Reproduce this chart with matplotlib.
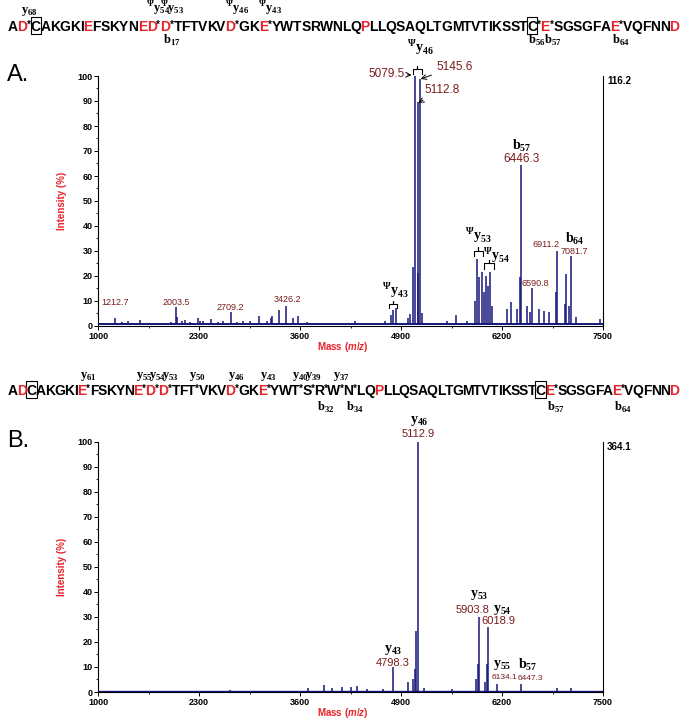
import matplotlib
matplotlib.use('Agg')
import matplotlib.pyplot as plt
from matplotlib.patches import Rectangle

plt.rcParams['font.family'] = ['Liberation Sans', 'DejaVu Sans']
plt.rcParams['mathtext.fontset'] = 'custom'
plt.rcParams['mathtext.rm'] = 'Liberation Serif:bold'
plt.rcParams['mathtext.bf'] = 'Liberation Serif:bold'
plt.rcParams['mathtext.it'] = 'Liberation Sans:italic:bold'

W_PX, H_PX = 691, 720
RED = '#e8232a'
NUM = '#7a1c1c'
LINE = '#16167a'

# ---- sequences -------------------------------------------------------------
SEQ_A = "AD*CAKGKIEFSKYNED*D*TFTVKVD*GKE*YWTSRWNLQPLLQSAQLTGMTVTIKSSTC*E*SGSGFAE*VQFNND"
RED_A = [1, 9, 15, 16, 18, 26, 30, 41, 62, 70, 77]
BOX_A = [3, 60]
TOP_A = {2: r'$\mathrm{y}_{68}$', 17: r'${}^{\Psi}\mathrm{y}_{54}$', 19: r'${}^{\Psi}\mathrm{y}_{53}$',
         27: r'${}^{\Psi}\mathrm{y}_{46}$', 31: r'${}^{\Psi}\mathrm{y}_{43}$'}
BOT_A = {19: r'$\mathrm{b}_{17}$', 62: r'$\mathrm{b}_{56}\mathrm{b}_{57}$', 71: r'$\mathrm{b}_{64}$'}

SEQ_B = "ADCAKGKIE*FSKYNE*D*D*TFT*VKVD*GKE*YWT*S*R*W*N*LQPLLQSAQLTGMTVTIKSSTCE*SGSGFAE*VQFNND"
RED_B = [1, 8, 15, 17, 19, 28, 32, 48, 68, 76, 83]
BOX_B = [2, 67]
TOP_B = {9: r'$\mathrm{y}_{61}$', 16: r'$\mathrm{y}_{55}$', 18: r'$\mathrm{y}_{54}$', 20: r'$\mathrm{y}_{53}$',
         24: r'$\mathrm{y}_{50}$', 29: r'$\mathrm{y}_{46}$', 33: r'$\mathrm{y}_{43}$', 37: r'$\mathrm{y}_{40}$',
         39: r'$\mathrm{y}_{39}$', 43: r'$\mathrm{y}_{37}$'}
BOT_B = {41: r'$\mathrm{b}_{32}$', 45: r'$\mathrm{b}_{34}$', 69: r'$\mathrm{b}_{57}$', 77: r'$\mathrm{b}_{64}$'}

# ---- spectrum A (m/z, relative intensity %) ---------------------------------
A_MZ = [1212.7, 1305, 1390, 1540, 1755, 1880, 1940, 2003.5, 2020, 2075, 2120, 2180, 2282, 2313,
        2355, 2450, 2548, 2613, 2709.2, 2785, 2870, 2955, 3072, 3170, 3222, 3239, 3333, 3426.2,
        3513, 3573, 3685, 3857, 4028, 4307, 4457, 4607, 4693, 4766, 4800, 4834, 4993, 5015, 5058,
        5079.5, 5112.8, 5123, 5145.6, 5165, 5488, 5607, 5745, 5852, 5873, 5904, 5938, 5964, 5990,
        6024, 6045, 6067, 6260, 6316, 6388, 6431, 6446.3, 6517, 6560, 6590.8, 6676, 6744, 6800,
        6894, 6911.2, 7010, 7023, 7060, 7081.7, 7150, 7460]
A_INT = [3.2, 1.6, 1.8, 2.4, 1.2, 1.2, 1.6, 7.6, 3.5, 2.0, 2.2, 1.5, 3.0, 2.0,
         1.8, 2.6, 1.6, 1.8, 5.7, 1.6, 2.0, 2.0, 4.0, 2.0, 3.0, 4.0, 6.4, 8.0,
         3.0, 4.0, 1.5, 1.2, 1.0, 2.0, 1.0, 1.2, 2.0, 4.4, 6.4, 7.2, 3.0, 4.8, 23.7,
         100, 89.5, 21, 98.8, 5.0, 2.0, 4.5, 2.0, 10, 26.8, 19.6, 21.7, 13.6, 20,
         16, 21.6, 8, 6.8, 9.6, 6.8, 19.6, 64.5, 8, 5.6, 15.2, 6.8, 6, 5.6,
         13.6, 29.8, 8.8, 20.8, 8, 27.8, 3.6, 2.8]
A_BASE = 0.8
A_MAX = '116.2'

# ---- spectrum B ---------------------------------------------------------------
B_MZ = [2700, 3703, 3910, 4011, 4140, 4252, 4335, 4460, 4670, 4798.3, 4990, 5055, 5080, 5093,
        5112.9, 5190, 5552, 5870, 5886, 5903.8, 5980, 6001, 6018.9, 6134.1, 6447.3, 6902, 7083]
B_INT = [0.6, 1.6, 2.8, 1.6, 1.8, 2.1, 2.5, 1.0, 1.0, 9.9, 4.0, 5.0, 9.0, 24.4,
         100, 1.5, 1.2, 5.0, 11, 29.8, 4, 11, 26.0, 3.2, 3.2, 1.6, 1.6]
B_BASE = 0.3
B_MAX = '364.1'

X_TICKS = [1000, 2300, 3600, 4900, 6200, 7500]


def fx(x):
    return x / W_PX


def fy(y):
    return 1 - y / H_PX


def draw_sequence(fig, seq, red, boxed, top, bottom, base_y, top_y, bot_y,
                  x_left=8, x_right=679, label_size=9.5):
    renderer = fig.canvas.get_renderer()
    arts, widths = [], []
    for i, ch in enumerate(seq):
        star = ch == '*'
        t = fig.text(0, 0, ch, fontsize=7 if star else 10, fontweight='bold',
                     color=RED if i in red else 'black', ha='center', va='baseline')
        widths.append(t.get_window_extent(renderer).width)
        arts.append(t)
    scale = (x_right - x_left) / sum(widths)
    xs = []
    cur = x_left
    for t, w, ch in zip(arts, widths, seq):
        c = cur + w * scale / 2
        t.set_position((fx(c), fy(base_y - (3 if ch == '*' else 0))))
        xs.append(c)
        cur += w * scale
    for i in boxed:
        w = widths[i] * scale
        fig.add_artist(Rectangle((fx(xs[i] - w / 2 - 0.5), fy(base_y + 3)), (w + 1) / W_PX, 17 / H_PX,
                                 transform=fig.transFigure, fill=False, lw=0.8, ec='black'))
    for i, lab in top.items():
        fig.text(fx(xs[i]), fy(top_y), lab, fontsize=label_size, ha='center', va='baseline')
    for i, lab in bottom.items():
        fig.text(fx(xs[i]), fy(bot_y), lab, fontsize=label_size, ha='center', va='baseline')


def style_axes(ax, fig, y_top_px, y_bot_px, max_label):
    ax.set_xlim(1000, 7500)
    ax.set_ylim(0, 100)
    ax.spines['top'].set_visible(False)
    for s in ax.spines.values():
        s.set_linewidth(0.8)
    ax.set_xticks(X_TICKS)
    ax.set_xticks([1650, 2950, 4250, 5550, 6850], minor=True)
    ax.set_yticks(range(0, 101, 10))
    ax.set_yticks(range(5, 100, 10), minor=True)
    ax.tick_params(which='major', length=3, width=0.7, labelsize=6.5, pad=1)
    ax.tick_params(which='minor', length=1.5, width=0.6)
    for lbl in ax.get_xticklabels() + ax.get_yticklabels():
        lbl.set_fontweight('bold')
    yc = (y_top_px + y_bot_px) / 2
    fig.text(fx(62), fy(yc), 'Intensity (%)', rotation=90, color=RED, fontsize=7,
             fontweight='bold', ha='center', va='center')
    fig.text(fx(343), fy(y_bot_px + 21), r'Mass ($\mathit{m}$/$\mathit{z}$)', color=RED, fontsize=7,
             fontweight='bold', ha='center', va='center')
    fig.text(fx(607), fy(y_top_px + 5), max_label, fontsize=7, fontweight='bold', ha='left', va='center')


def bracket(ax, x0, x1, y, drop):
    xc = (x0 + x1) / 2
    ax.plot([x0, x0, xc, xc, xc, x1, x1], [y - drop, y, y, y + drop * 0.7, y, y, y - drop],
            color='black', lw=0.8, clip_on=False)


def num(ax, x, y, s, size=6.5):
    ax.text(x, y, s, color=NUM, fontsize=size, ha='center', va='center', clip_on=False)


def ion(ax, x, y, s, size=10):
    ax.text(x, y, s, color='black', fontsize=size, ha='center', va='center', clip_on=False)


fig = plt.figure(figsize=(6.91, 7.2), dpi=100)

# sequences
draw_sequence(fig, SEQ_A, RED_A, BOX_A, TOP_A, BOT_A, base_y=31, top_y=13, bot_y=44, label_size=9)
draw_sequence(fig, SEQ_B, RED_B, BOX_B, TOP_B, BOT_B, base_y=395, top_y=378, bot_y=411, label_size=9)

fig.text(fx(7), fy(75), 'A.', fontsize=17, ha='left', va='center')
fig.text(fx(7), fy(441), 'B.', fontsize=17, ha='left', va='center')

# ---- panel A ----
axA = fig.add_axes([fx(98), fy(326), 505 / W_PX, 250 / H_PX])
axA.axhline(A_BASE, color=LINE, lw=1.4)
axA.vlines(A_MZ, A_BASE, A_INT, color=LINE, lw=1.1)
style_axes(axA, fig, 76, 326, A_MAX)

num(axA, 1219, 9.3, '1212.7')
num(axA, 2004, 9.5, '2003.5')
num(axA, 2709, 7.5, '2709.2')
num(axA, 3439, 10.4, '3426.2')
ion(axA, 4823, 14.4, r'${}^{\Psi}\mathrm{y}_{43}$')
bracket(axA, 4741, 4844, 8.8, 1.6)
ion(axA, 5150, 111.6, r'${}^{\Psi}\mathrm{y}_{46}$')
bracket(axA, 5050, 5165, 102.7, 2.0)
axA.annotate('5079.5', xy=(5036, 100.4), xytext=(4715, 100.8), color=NUM, fontsize=8.5,
             ha='center', va='center', annotation_clip=False,
             arrowprops=dict(arrowstyle='->', color='black', lw=0.7, shrinkA=0, shrinkB=0))
axA.annotate('5145.6', xy=(5153, 98.8), xytext=(5595, 103.7), color=NUM, fontsize=8.5,
             ha='center', va='center', annotation_clip=False,
             arrowprops=dict(arrowstyle='->', color='black', lw=0.7, shrinkA=2, shrinkB=0))
axA.annotate('5112.8', xy=(5122, 89.3), xytext=(5423, 94.4), color=NUM, fontsize=8.5,
             ha='center', va='center', annotation_clip=False,
             arrowprops=dict(arrowstyle='->', color='black', lw=0.7, shrinkA=2, shrinkB=0))
ion(axA, 5895, 36.4, r'${}^{\Psi}\mathrm{y}_{53}$')
bracket(axA, 5840, 5951, 30, 2.0)
ion(axA, 6130, 28.4, r'${}^{\Psi}\mathrm{y}_{54}$')
bracket(axA, 5972, 6097, 25, 2.2)
ion(axA, 6452, 72, r'$\mathrm{b}_{57}$')
num(axA, 6452, 66.8, '6446.3', 8.5)
num(axA, 6633, 17.1, '6590.8')
num(axA, 6766, 32.4, '6911.2')
ion(axA, 7134, 35, r'$\mathrm{b}_{64}$')
num(axA, 7127, 29.7, '7081.7')

# ---- panel B ----
axB = fig.add_axes([fx(98), fy(692), 505 / W_PX, 250.5 / H_PX])
axB.axhline(B_BASE, color=LINE, lw=1.0)
axB.vlines(B_MZ, B_BASE, B_INT, color=LINE, lw=1.1)
style_axes(axB, fig, 442, 692, B_MAX)

ion(axB, 5136, 108, r'$\mathrm{y}_{46}$')
num(axB, 5119, 102.8, '5112.9', 8)
ion(axB, 4797, 16.7, r'$\mathrm{y}_{43}$')
num(axB, 4797, 11.7, '4798.3', 8)
ion(axB, 5904, 38.6, r'$\mathrm{y}_{53}$')
num(axB, 5827, 32.7, '5903.8', 8)
ion(axB, 6200, 32.9, r'$\mathrm{y}_{54}$')
num(axB, 6148, 28.3, '6018.9', 8)
ion(axB, 6200, 10.8, r'$\mathrm{y}_{55}$')
num(axB, 6226, 5.7, '6134.1', 6)
ion(axB, 6527, 10.8, r'$\mathrm{b}_{57}$')
num(axB, 6570, 5.5, '6447.3', 6)

fig.savefig('out.png', dpi=100)
